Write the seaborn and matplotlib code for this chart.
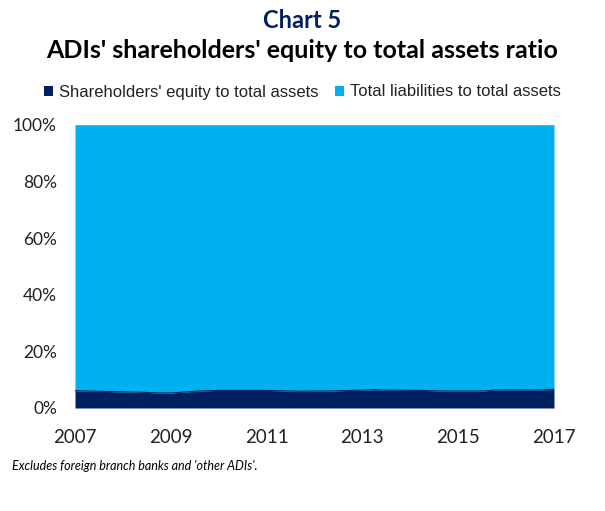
import matplotlib
matplotlib.use("Agg")
import matplotlib.pyplot as plt
from matplotlib.patches import Patch
from matplotlib.ticker import PercentFormatter
import numpy as np
import pandas as pd
import seaborn as sns

# ---- data (quarterly) ----
quarters = [2007.00, 2007.25, 2007.50, 2007.75, 2008.00, 2008.25, 2008.50, 2008.75,
            2009.00, 2009.25, 2009.50, 2009.75, 2010.00, 2010.25, 2010.50, 2010.75,
            2011.00, 2011.25, 2011.50, 2011.75, 2012.00, 2012.25, 2012.50, 2012.75,
            2013.00, 2013.25, 2013.50, 2013.75, 2014.00, 2014.25, 2014.50, 2014.75,
            2015.00, 2015.25, 2015.50, 2015.75, 2016.00, 2016.25, 2016.50, 2016.75,
            2017.00]
equity_pct = [6.1, 6.0, 5.9, 5.8, 5.7, 5.6, 5.5, 5.3,
              5.3, 5.6, 5.9, 6.1, 6.2, 6.2, 6.2, 6.2,
              6.2, 6.1, 6.0, 5.9, 6.0, 6.0, 6.1, 6.2,
              6.3, 6.5, 6.3, 6.3, 6.2, 6.2, 6.1, 6.0,
              6.0, 6.0, 6.0, 6.3, 6.4, 6.4, 6.3, 6.4,
              6.6]
liabilities_pct = [100 - e for e in equity_pct]
series_names = ["Shareholders' equity to total assets", "Total liabilities to total assets"]
x_ticks = [2007, 2009, 2011, 2013, 2015, 2017]
y_ticks = [0, 20, 40, 60, 80, 100]

df = pd.DataFrame({"date": quarters, "equity": equity_pct, "liab": liabilities_pct})

NAVY = "#002060"
LIGHT = "#00B0F0"

sns.set_theme(style="white")
plt.rcParams["font.family"] = ["Lato", "DejaVu Sans"]

fig = plt.figure(figsize=(6.05, 5.11), dpi=100)
ax = fig.add_axes([75 / 605, 1 - 408 / 511, (554 - 75) / 605, (408 - 124.7) / 511])

ax.stackplot(df["date"], df["equity"], df["liab"], colors=[NAVY, LIGHT], linewidth=0)
sns.lineplot(data=df, x="date", y="equity", ax=ax, color=NAVY, linewidth=0.8)

ax.set_xlim(2007, 2017)
ax.set_ylim(0, 100)
ax.set_xticks(x_ticks)
ax.set_xticklabels([str(t) for t in x_ticks], fontsize=13.5)
ax.set_yticks(y_ticks)
ax.yaxis.set_major_formatter(PercentFormatter(100, decimals=0))
ax.tick_params(axis="y", labelsize=12.5, pad=13, length=0)
ax.tick_params(axis="x", pad=15, length=0)
for lbl in ax.get_yticklabels():
    lbl.set_color("#222222")
for lbl in ax.get_xticklabels():
    lbl.set_color("#222222")
ax.set_xlabel("")
ax.set_ylabel("")
for s in ax.spines.values():
    s.set_visible(False)
ax.grid(False)

fig.text(0.5, 1 - 21 / 511, "Chart 5", ha="center", va="center",
         fontsize=17, fontweight="bold", color=NAVY)
fig.text(0.5, 1 - 50 / 511, "ADIs' shareholders' equity to total assets ratio", ha="center",
         va="center", fontsize=18, fontweight="bold", color="black")

handles = [Patch(facecolor=NAVY, edgecolor="none"), Patch(facecolor=LIGHT, edgecolor="none")]
leg = fig.legend(handles, series_names, loc="center", bbox_to_anchor=(0.5, 1 - 92 / 511),
                 ncol=2, frameon=False, handlelength=0.55, handleheight=0.55,
                 handletextpad=0.35, columnspacing=1.0,
                 prop={"family": ["Liberation Sans", "DejaVu Sans"], "size": 12})
for t in leg.get_texts():
    t.set_color("#222222")

fig.text(12 / 605, 1 - 466 / 511, "Excludes foreign branch banks and 'other ADIs'.",
         ha="left", va="center", fontsize=9, style="italic", color="black")

fig.savefig("out.png", dpi=100, facecolor="white")
